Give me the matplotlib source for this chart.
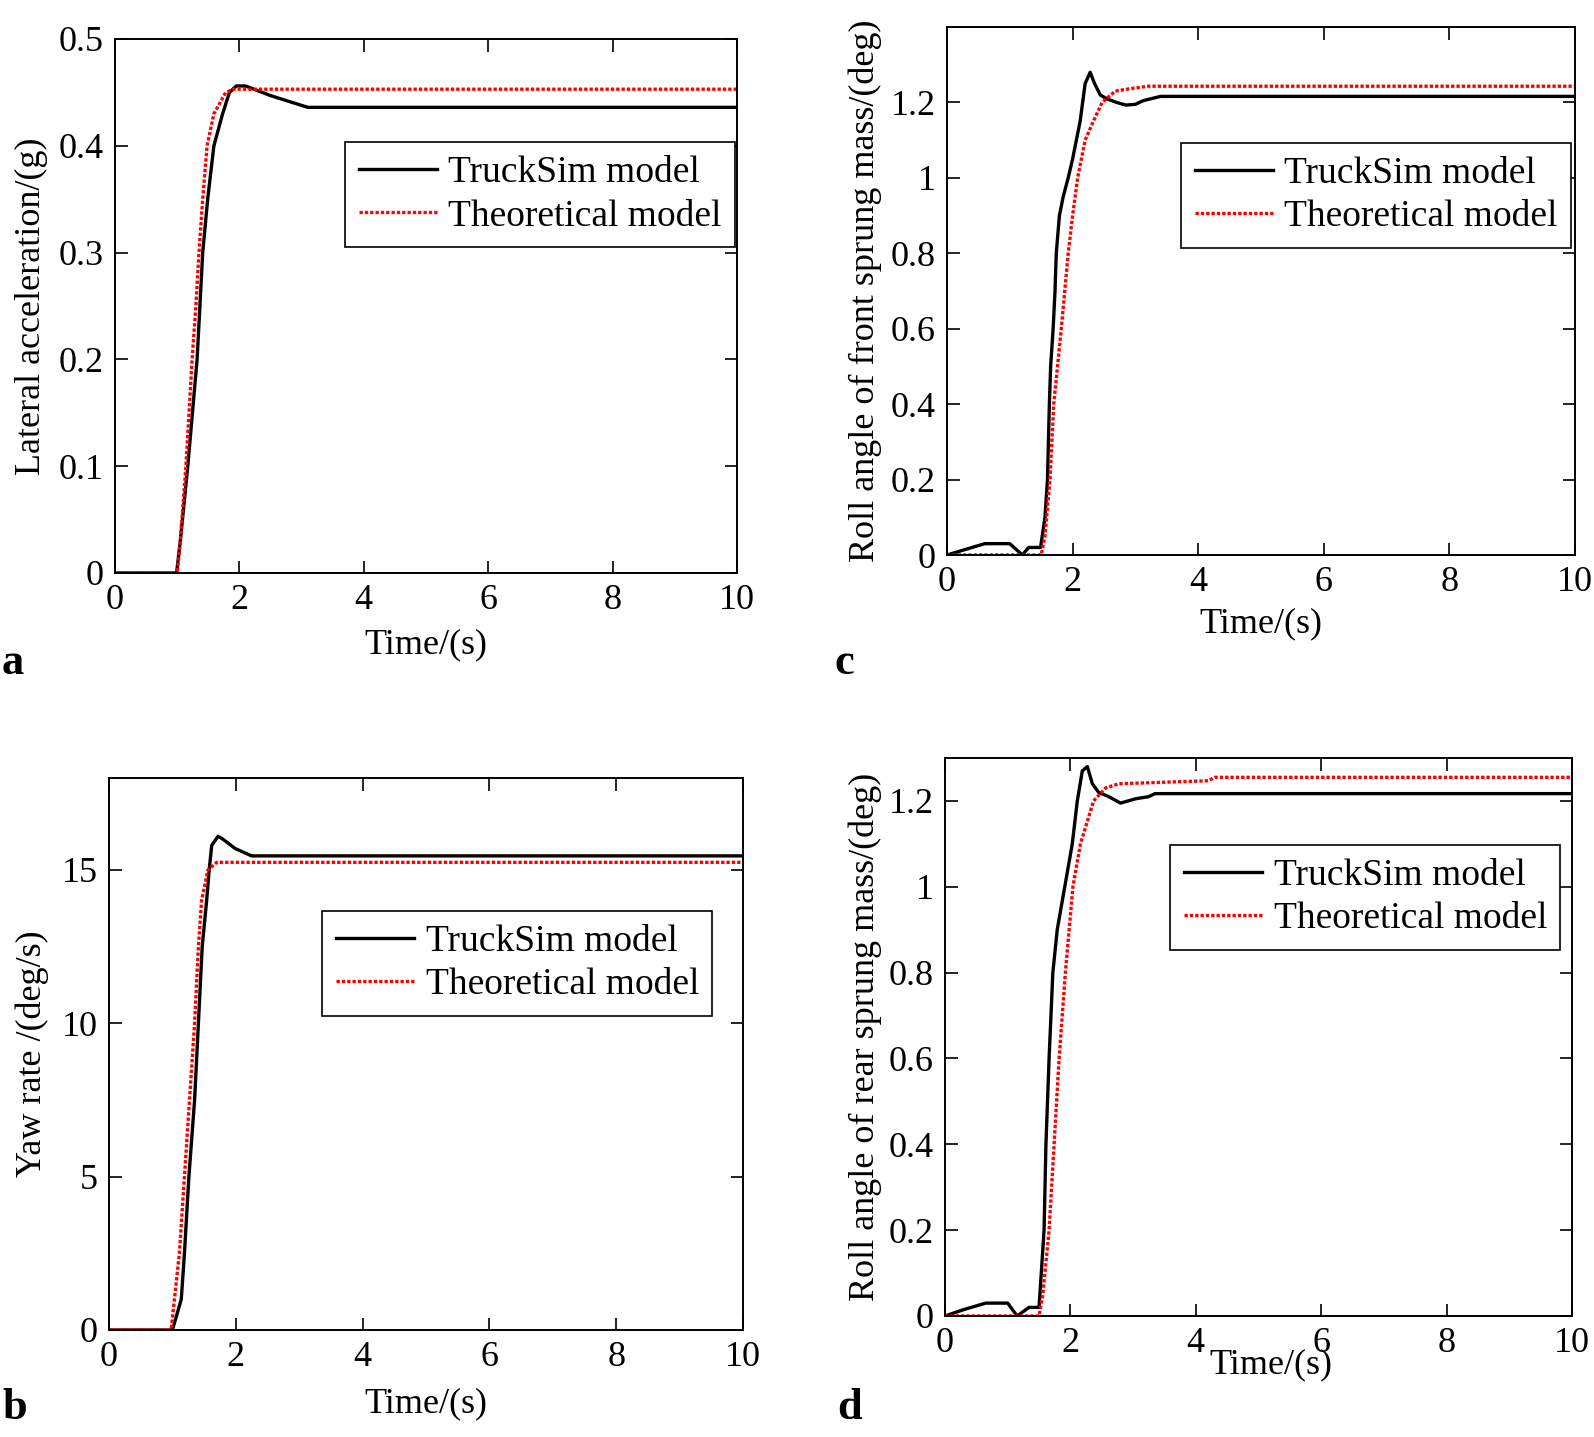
import matplotlib
matplotlib.use('Agg')
import matplotlib.pyplot as plt

plt.rcParams['font.family'] = ['Liberation Serif', 'DejaVu Serif']
plt.rcParams['font.size'] = 26

# (a) lateral acceleration
a_truck_t = [0, 0.99, 1.05, 1.17, 1.32, 1.41, 1.49, 1.59, 1.73, 1.84, 1.95, 2.1, 2.5, 3.1, 10]
a_truck_v = [0, 0, 0.03, 0.1, 0.2, 0.3, 0.35, 0.4, 0.43, 0.45, 0.456, 0.456, 0.447, 0.436, 0.436]
a_theo_t = [0, 1.0, 1.05, 1.14, 1.24, 1.30, 1.35, 1.41, 1.48, 1.59, 1.78, 1.92, 10]
a_theo_v = [0, 0, 0.03, 0.1, 0.2, 0.25, 0.3, 0.35, 0.4, 0.43, 0.45, 0.453, 0.453]

# (b) yaw rate
b_truck_t = [0, 1.0, 1.14, 1.19, 1.26, 1.35, 1.41, 1.47, 1.54, 1.58, 1.62, 1.72, 1.8, 1.99, 2.25, 10]
b_truck_v = [0, 0, 1, 2.5, 5, 7.5, 10, 12.5, 14, 15, 15.8, 16.1, 16.0, 15.7, 15.46, 15.46]
b_theo_t = [0, 0.98, 1.11, 1.19, 1.27, 1.35, 1.41, 1.46, 1.56, 1.7, 10]
b_theo_v = [0, 0, 2.5, 5, 7.5, 10, 12.5, 14, 15, 15.25, 15.25]

# (c) roll angle of front sprung mass
c_truck_t = [0, 0.3, 0.6, 1.0, 1.2, 1.3, 1.49, 1.56, 1.6, 1.63, 1.65, 1.69, 1.72, 1.74, 1.79, 1.85,
             1.93, 2.0, 2.06, 2.12, 2.16, 2.2, 2.28, 2.35, 2.44, 2.54, 2.7, 2.85, 3.0, 3.13, 3.4, 10]
c_truck_v = [0, 0.015, 0.03, 0.03, 0, 0.02, 0.02, 0.1, 0.2, 0.4, 0.5, 0.6, 0.7, 0.8, 0.9, 0.95,
             1.0, 1.05, 1.1, 1.15, 1.2, 1.25, 1.28, 1.25, 1.22, 1.21, 1.2, 1.193, 1.195, 1.205, 1.216, 1.216]
c_theo_t = [0, 1.5, 1.56, 1.64, 1.7, 1.82, 1.93, 2.0, 2.08, 2.2, 2.33, 2.47, 2.68, 2.9, 3.2, 10]
c_theo_v = [0, 0, 0.05, 0.2, 0.4, 0.6, 0.8, 0.9, 1.0, 1.1, 1.15, 1.2, 1.23, 1.236, 1.243, 1.243]

# (d) roll angle of rear sprung mass
d_truck_t = [0, 0.3, 0.65, 1.0, 1.15, 1.34, 1.5, 1.58, 1.61, 1.66, 1.72, 1.79, 1.91, 2.03, 2.11,
             2.19, 2.27, 2.35, 2.45, 2.61, 2.8, 3.04, 3.25, 3.35, 10]
d_truck_v = [0, 0.015, 0.03, 0.03, 0, 0.02, 0.02, 0.2, 0.4, 0.6, 0.8, 0.9, 1.0, 1.1, 1.2,
             1.27, 1.28, 1.24, 1.22, 1.21, 1.195, 1.205, 1.21, 1.217, 1.217]
d_theo_t = [0, 1.5, 1.56, 1.66, 1.74, 1.82, 1.92, 2.04, 2.16, 2.37, 2.56, 2.77, 4.2, 4.3, 10]
d_theo_v = [0, 0, 0.05, 0.2, 0.4, 0.6, 0.8, 1.0, 1.1, 1.2, 1.23, 1.24, 1.247, 1.255, 1.255]

W, H = 1594, 1437
fig = plt.figure(figsize=(W / 100, H / 100), dpi=100)


def px_axes(l, r, t, b):
    return fig.add_axes([l / W, 1 - b / H, (r - l) / W, (b - t) / H])


panels = [
    dict(box=(115, 737, 39, 573), tr=(a_truck_t, a_truck_v), th=(a_theo_t, a_theo_v),
         ylim=(0, 0.5), yticks=[0, 0.1, 0.2, 0.3, 0.4, 0.5], ytl=['0', '0.1', '0.2', '0.3', '0.4', '0.5'],
         ylabel='Lateral acceleration/(g)', ylx=-0.108, xl=(0.5, -0.103),
         leg=(735, 142), letter='a', lpos=(2, 663)),
    dict(box=(109, 743, 778, 1330), tr=(b_truck_t, b_truck_v), th=(b_theo_t, b_theo_v),
         ylim=(0, 18), yticks=[0, 5, 10, 15], ytl=['0', '5', '10', '15'],
         ylabel='Yaw rate /(deg/s)', ylx=-0.095, xl=(0.5, -0.104),
         leg=(712, 911), letter='b', lpos=(2, 1408)),
    dict(box=(947, 1575, 27, 555), tr=(c_truck_t, c_truck_v), th=(c_theo_t, c_theo_v),
         ylim=(0, 1.4), yticks=[0, 0.2, 0.4, 0.6, 0.8, 1.0, 1.2],
         ytl=['0', '0.2', '0.4', '0.6', '0.8', '1', '1.2'],
         ylabel='Roll angle of front sprung mass/(deg)', ylx=-0.104, xl=(0.5, -0.1),
         leg=(1571, 143), letter='c', lpos=(834, 663)),
    dict(box=(945, 1572, 758, 1316), tr=(d_truck_t, d_truck_v), th=(d_theo_t, d_theo_v),
         ylim=(0, 1.3), yticks=[0, 0.2, 0.4, 0.6, 0.8, 1.0, 1.2],
         ytl=['0', '0.2', '0.4', '0.6', '0.8', '1', '1.2'],
         ylabel='Roll angle of rear sprung mass/(deg)', ylx=-0.101, xl=(0.52, -0.058),
         leg=(1560, 845), letter='d', lpos=(837, 1408)),
]

for p in panels:
    ax = px_axes(*p['box'])
    ax.plot(p['tr'][0], p['tr'][1], color='black', lw=2.4, label='TruckSim model')
    ax.plot(p['th'][0], p['th'][1], color='red', lw=2.4, ls=(0, (1, 0.6)), label='Theoretical model')
    ax.set_xlim(0, 10)
    ax.set_ylim(*p['ylim'])
    ax.set_xticks([0, 2, 4, 6, 8, 10])
    ax.set_yticks(p['yticks'])
    ax.set_yticklabels(p['ytl'])
    ax.tick_params(direction='in', top=True, right=True, length=9, width=1.2, pad=8, labelsize=26)
    for s in ax.spines.values():
        s.set_linewidth(1.4)
    ax.set_xlabel('Time/(s)', fontsize=26)
    ax.xaxis.set_label_coords(*p['xl'])
    ax.set_ylabel(p['ylabel'], fontsize=26)
    ax.yaxis.set_label_coords(p['ylx'], 0.5)
    ax.legend(loc='upper right', bbox_to_anchor=(p['leg'][0] / W, 1 - p['leg'][1] / H),
              bbox_transform=fig.transFigure, fancybox=False, framealpha=1, edgecolor='black',
              fontsize=27, handlelength=2.1, borderpad=0.35, labelspacing=0.25,
              handletextpad=0.3, borderaxespad=0)
    ax.get_legend().get_frame().set_linewidth(1.2)
    fig.text(p['lpos'][0] / W, 1 - p['lpos'][1] / H, p['letter'], fontsize=32,
             fontweight='bold', ha='left', va='center')

fig.savefig('out.png', dpi=100)
